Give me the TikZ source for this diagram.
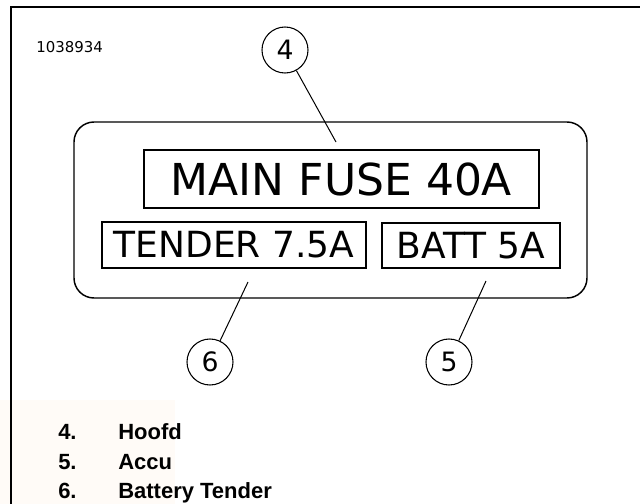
\documentclass[tikz,border=0pt]{standalone}
\usepackage{fontspec}
\setmainfont{DejaVu Sans}
\newfontfamily\legendfont{Liberation Sans}
\begin{document}
\begin{tikzpicture}[x=0.75pt,y=-0.75pt,
  fusebox/.style={draw=black,line width=1.1pt,inner sep=0pt,font=#1},
  callout/.style={draw=black,circle,line width=0.8pt,minimum size=34.5pt,inner sep=0pt,font=\fontsize{20}{24}\selectfont},
  leader/.style={line width=0.75pt},
  legtext/.style={anchor=base west,inner sep=0pt,font=\legendfont\bfseries\fontsize{16.5}{20}\selectfont}]
\useasboundingbox (0,0) rectangle (640,504);
% faint watermark
\fill[orange!3] (0,400) rectangle (175,504);
% frame
\draw[line width=1.2pt] (11,504) -- (11,7) -- (640,7);
\node[anchor=base west,inner sep=0pt,font=\fontsize{11.2}{13}\selectfont] (code) at (36,52) {1038934};
% housing
\node[draw=black,line width=1.1pt,rounded corners=15pt,minimum width=384.75pt,minimum height=132pt] (housing) at (330.5,210) {};
\node[fusebox=\fontsize{33}{40}\selectfont,minimum width=296.25pt,minimum height=43.5pt] (main) at (341.5,179) {MAIN FUSE 40A};
\node[fusebox=\fontsize{27}{32}\selectfont,minimum width=198pt,minimum height=34.5pt] (tender) at (234,245) {TENDER 7.5A};
\node[fusebox=\fontsize{27}{32}\selectfont,minimum width=133.5pt,minimum height=33.75pt] (batt) at (471,245.5) {BATT 5A};
% callouts
\node[callout] (c4) at (285,50) {4};
\node[callout] (c6) at (210,362) {6};
\node[callout] (c5) at (449,362) {5};
\coordinate (p4) at (336,142);
\coordinate (p6) at (248,282);
\coordinate (p5) at (486,281);
\draw[leader] (c4) -- (p4);
\draw[leader] (c6) -- (p6);
\draw[leader] (c5) -- (p5);
% legend
\node[legtext] (n4) at (58,439) {4.};
\node[legtext] (t4) at (118,439) {Hoofd};
\node[legtext] (n5) at (58,469) {5.};
\node[legtext] (t5) at (118,469) {Accu};
\node[legtext] (n6) at (58,498) {6.};
\node[legtext] (t6) at (118,498) {Battery Tender};
\end{tikzpicture}
\end{document}
